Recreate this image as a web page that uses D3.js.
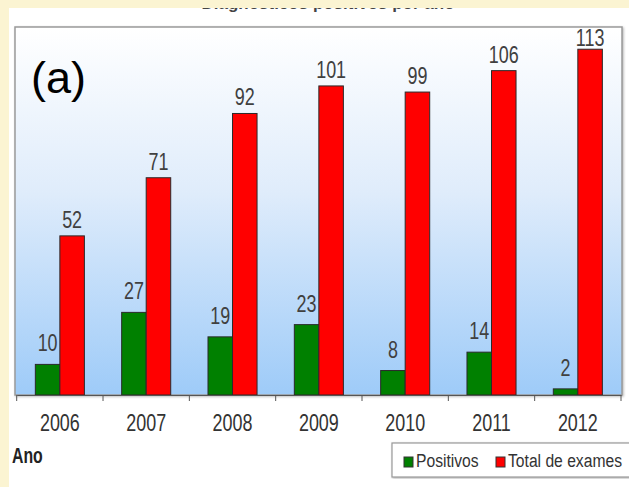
<!DOCTYPE html>
<html>
<head>
<meta charset="utf-8">
<script src="https://cdn.jsdelivr.net/npm/d3@7"></script>
<style>
  html, body { margin: 0; padding: 0; background: #fbf4d2; }
  svg { display: block; }
  text { font-family: "Liberation Sans", Arial, sans-serif; }
</style>
</head>
<body>
<svg id="chart" width="629" height="487"></svg>
<script>
// Yearly exam counts
const years = ["2006", "2007", "2008", "2009", "2010", "2011", "2012"];
const positivos = [10, 27, 19, 23, 8, 14, 2];
const totalExames = [52, 71, 92, 101, 99, 106, 113];
const seriesKeys = ["Positivos", "Total de exames"];
const seriesColors = ["#008000", "#ff0000"];
const panelTag = "(a)";
const axisTitle = "Ano";
const chartTitle = "Diagnósticos positivos por ano";

const rows = years.map((yr, i) => ({ year: yr, values: [positivos[i], totalExames[i]] }));

const svg = d3.select("#chart");
const W = 629, H = 487;

// white chart panel on the slide background
svg.append("rect").attr("width", W).attr("height", H).attr("fill", "#fbf4d2");
svg.append("rect").attr("x", 9).attr("y", 0).attr("width", W - 9).attr("height", H).attr("fill", "#ffffff");

// chart title; only its descenders show below the slide margin
svg.append("text")
  .attr("x", 328).attr("y", 8.5)
  .attr("text-anchor", "middle")
  .attr("font-size", 17).attr("font-weight", "bold")
  .attr("fill", "#444")
  .text(chartTitle);
svg.append("rect").attr("x", 0).attr("y", 0).attr("width", W).attr("height", 8).attr("fill", "#fbf4d2");

const plot = { left: 15, top: 27, right: 622, bottom: 395 };

const defs = svg.append("defs");
const grad = defs.append("linearGradient").attr("id", "plotBg")
  .attr("x1", 0).attr("y1", 0).attr("x2", 0).attr("y2", 1);
grad.append("stop").attr("offset", "0%").attr("stop-color", "#ffffff");
grad.append("stop").attr("offset", "45%").attr("stop-color", "#dfecfb");
grad.append("stop").attr("offset", "100%").attr("stop-color", "#9ecbf8");

const shadow = defs.append("filter").attr("id", "boxShadow")
  .attr("x", "-5%").attr("y", "-5%").attr("width", "110%").attr("height", "110%");
shadow.append("feDropShadow").attr("dx", 1).attr("dy", 1).attr("stdDeviation", 1)
  .attr("flood-color", "#888").attr("flood-opacity", 0.6);

// plot area
svg.append("rect")
  .attr("x", plot.left).attr("y", plot.top)
  .attr("width", plot.right - plot.left).attr("height", plot.bottom - plot.top)
  .attr("fill", "url(#plotBg)")
  .attr("stroke", "#9a9a9a").attr("stroke-width", 1.5)
  .attr("filter", "url(#boxShadow)");

const x = d3.scaleBand().domain(years).range([16.7, 621]).paddingInner(0).paddingOuter(0);
const xs = d3.scaleBand().domain(d3.range(seriesKeys.length)).range([0, x.bandwidth()])
  .paddingInner(0).paddingOuter(0.76);
const y = d3.scaleLinear().domain([0, 120]).range([plot.bottom, 27.8]);

// bars
const groups = svg.append("g").selectAll("g").data(rows).join("g")
  .attr("transform", d => `translate(${x(d.year)},0)`);

groups.selectAll("rect")
  .data(d => d.values.map((v, k) => ({ v, k })))
  .join("rect")
  .attr("x", d => xs(d.k))
  .attr("y", d => y(d.v))
  .attr("width", xs.bandwidth())
  .attr("height", d => y(0) - y(d.v))
  .attr("fill", d => seriesColors[d.k])
  .attr("stroke", "#2a2a2a").attr("stroke-width", 1);

// value labels
groups.selectAll("text.val")
  .data(d => d.values.map((v, k) => ({ v, k })))
  .join("text")
  .attr("class", "val")
  .attr("transform", d => {
    const cx = xs(d.k) + xs.bandwidth() / 2;
    const cy = Math.max(y(d.v) - (d.k === 0 ? 13 : 8), 46);
    return `translate(${cx},${cy}) scale(0.78,1)`;
  })
  .attr("text-anchor", "middle")
  .attr("font-size", 23)
  .attr("fill", "#404040")
  .text(d => d.v);

// x axis: labels at band centres, tick marks at band edges
const axisG = svg.append("g").attr("transform", `translate(0,${plot.bottom})`)
  .call(d3.axisBottom(x).tickSize(0).tickPadding(0));
axisG.select(".domain").attr("stroke", "#555").attr("stroke-width", 1.2);
axisG.selectAll(".tick text")
  .attr("y", 36).attr("dy", 0)
  .attr("transform", "scale(0.78,1)")
  .attr("font-size", 23)
  .attr("font-family", "Liberation Sans, Arial, sans-serif")
  .attr("fill", "#333");

const edges = years.map(yr => x(yr)).concat([x(years[years.length - 1]) + x.bandwidth()]);
svg.append("g").selectAll("line").data(edges).join("line")
  .attr("x1", d => d).attr("x2", d => d)
  .attr("y1", plot.bottom).attr("y2", plot.bottom + 6)
  .attr("stroke", "#555").attr("stroke-width", 1);

// axis title
svg.append("text")
  .attr("transform", "translate(12,463) scale(0.72,1)")
  .attr("font-size", 22).attr("font-weight", "bold")
  .attr("fill", "#222")
  .text(axisTitle);

// panel tag
svg.append("text")
  .attr("x", 31).attr("y", 93)
  .attr("font-size", 45)
  .attr("fill", "#000")
  .text(panelTag);

// legend
const lg = svg.append("g");
lg.append("rect")
  .attr("x", 392).attr("y", 443).attr("width", 245).attr("height", 34)
  .attr("fill", "#ffffff").attr("stroke", "#999").attr("stroke-width", 1.2)
  .attr("filter", "url(#boxShadow)");
const legendX = [404, 496];
const items = lg.selectAll("g").data(seriesKeys).join("g")
  .attr("transform", (d, i) => `translate(${legendX[i]},457)`);
items.append("rect")
  .attr("width", 9).attr("height", 10)
  .attr("fill", (d, i) => seriesColors[i])
  .attr("stroke", "#333").attr("stroke-width", 1);
items.append("text")
  .attr("transform", "translate(12,10) scale(0.87,1)")
  .attr("font-size", 18)
  .attr("fill", "#333")
  .text(d => d);
</script>
</body>
</html>
